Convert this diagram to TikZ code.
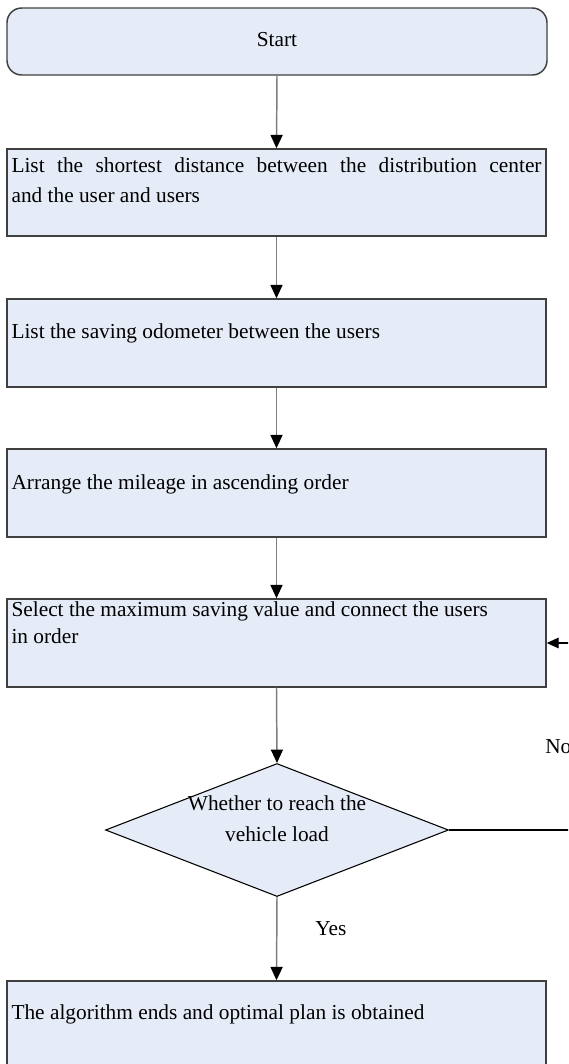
\documentclass[tikz,border=0pt]{standalone}
\usepackage{fontspec}
\setmainfont{Liberation Serif}
\usetikzlibrary{shapes.geometric,arrows.meta}
\definecolor{boxfill}{RGB}{230,236,247}
\definecolor{edgecol}{RGB}{64,64,64}
\definecolor{conncol}{RGB}{125,125,125}
\begin{document}
\begin{tikzpicture}[x=0.75pt,y=-0.75pt,
  font=\fontsize{16}{19}\selectfont,
  box/.style={draw=edgecol, line width=1.1pt, fill=boxfill, rectangle, inner sep=0pt,
    minimum width=404.25pt, minimum height=66pt},
  lbl/.style={inner sep=0pt, anchor=base west},
  clbl/.style={inner sep=0pt, anchor=base},
  arr/.style={draw=conncol, line width=1.1pt, -{Triangle[length=10pt,width=9pt,color=black]}},
  backarr/.style={draw=black, line width=0.8pt, -{Triangle[length=9pt,width=8pt,color=black]}}]
\useasboundingbox (0,0) rectangle (568,1064);
\clip (0,0) rectangle (568,1064);

% shapes
\node[box, rounded corners=11pt, minimum width=405pt, minimum height=50.25pt] (start) at (277,41.5) {};
\node[box, minimum height=65.25pt] (b1) at (276.5,192.5) {};
\node[box] (b2) at (276.5,343) {};
\node[box] (b3) at (276.5,493) {};
\node[box] (b4) at (276.5,643) {};
\node[diamond, draw=black, line width=0.8pt, fill=boxfill, inner sep=0pt,
  minimum width=257.25pt, minimum height=99.75pt] (d) at (277,830) {};
\node[box] (b5) at (276.5,1025) {};

% texts
\node[clbl] (tstart) at ([yshift=-39*0.75pt]start.north) {Start};
\node[lbl] (t1a) at ([shift={(5,24)}]b1.north west) {\makebox[397.5pt][s]{List the shortest distance between the distribution center}};
\node[lbl] (t1b) at ([shift={(5,54)}]b1.north west) {and the user and users};
\node[lbl] (t2) at ([shift={(5,40)}]b2.north west) {List the saving odometer between the users};
\node[lbl] (t3) at ([shift={(5,41)}]b3.north west) {Arrange the mileage in ascending order};
\node[lbl] (t4a) at ([shift={(5,18)}]b4.north west) {Select the maximum saving value and connect the users};
\node[lbl] (t4b) at ([shift={(5,45)}]b4.north west) {in order};
\node[clbl] (tda) at (277,810) {Whether to reach the};
\node[clbl] (tdb) at (277,841) {vehicle load};
\node[lbl] (t5) at ([shift={(5,39)}]b5.north west) {The algorithm ends and optimal plan is obtained};
\node[lbl] (yes) at (315,935) {Yes};
\node[lbl] (no) at (545,753) {No};

% connectors
\draw[arr] (start.south) -- (b1.north);
\draw[arr] (b1.south) -- (b2.north);
\draw[arr] (b2.south) -- (b3.north);
\draw[arr] (b3.south) -- (b4.north);
\draw[arr] (b4.south) -- (d.north);
\draw[arr] (d.south) -- (b5.north);
\coordinate (r1) at (590,830);
\coordinate (r2) at (590,643);
\draw[backarr] (d.east) -- (r1) -- (r2) -- (b4.east);
\end{tikzpicture}
\end{document}
